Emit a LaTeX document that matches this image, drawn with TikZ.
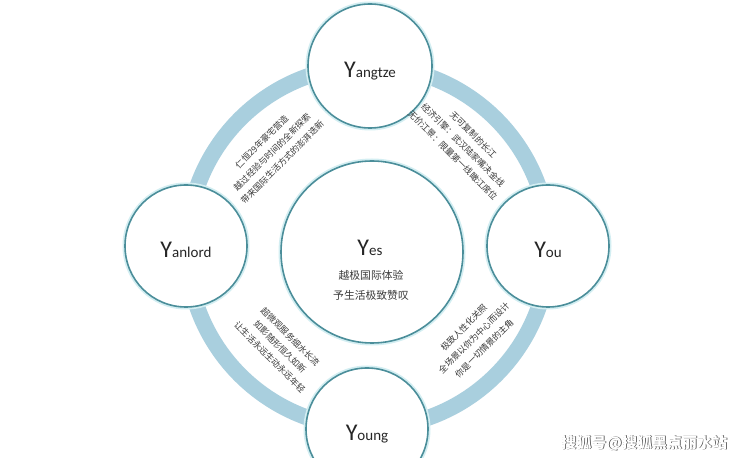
\documentclass[tikz,border=0pt]{standalone}
\usepackage{fontspec}
\setmainfont{Carlito}
\newfontfamily\cjk{Noto Sans CJK SC}
\usepackage{xcolor}
\usepackage{tikz}
\usetikzlibrary{positioning}
\definecolor{ringblue}{HTML}{A9CFDE}
\definecolor{rim}{HTML}{4B8E9A}
\definecolor{glow}{HTML}{D3EEF2}
\definecolor{ink}{HTML}{3A3A3A}
\tikzset{
  band/.style={draw=ringblue,line width=16pt},
  bubble/.style={circle,fill=white,draw=rim,line width=1.6pt,inner sep=0pt,
    preaction={draw=glow,line width=5pt}},
  ylabel/.style={font=\fontsize{15}{15}\selectfont,text=black!85,
    text height=15pt,text depth=4pt,yshift=-6pt},
  blurb/.style={font=\cjk\fontsize{8.7}{14.5}\selectfont,text=ink,align=center,inner sep=0pt},
  tagline/.style={font=\cjk\fontsize{10.8}{20}\selectfont,text=ink,align=center},
  wmark/.style={font=\cjk\bfseries\fontsize{15}{15}\selectfont}
}
\newcommand{\bigY}[1]{{\fontsize{24}{24}\selectfont Y}#1}

\begin{document}
\begin{tikzpicture}[x=1pt,y=1pt]
  \useasboundingbox (0,0) rectangle (740,458);
  \fill[white] (0,0) rectangle (740,458);
  \coordinate (hub) at (368,211);
  \draw[band] (hub) circle (181pt);
  % four outer circles + centre
  \node[bubble,minimum size=124pt] (yangtze) at (370,392) {};
  \node[bubble,minimum size=122pt] (yanlord) at (186,212) {};
  \node[bubble,minimum size=122pt] (you) at (548,212) {};
  \node[bubble,minimum size=122pt] (young) at (367,29) {};
  \node[bubble,minimum size=182pt] (yes) at (372,206) {};
  \node[ylabel] (yangtzelbl) at (yangtze) {\bigY{angtze}};
  \node[ylabel] (yanlordlbl) at (yanlord) {\bigY{anlord}};
  \node[ylabel] (youlbl) at (you) {\bigY{ou}};
  \node[ylabel] (younglbl) at (young) {\bigY{oung}};
  \node[ylabel,yshift=6pt] (yeslbl) at (370,208) {\bigY{es}};
  \node[tagline] (slogan) at (371,173) {越极国际体验\\予生活极致赞叹};
  % texts along the ring
  \node[blurb,rotate=45] (arcnw) at (272,306) {仁恒29年豪宅营造\\越过经验与时间的全新探索\\带来国际生活方式的澎湃迭新};
  \node[blurb,rotate=-45] (arcne) at (463,313) {无可复制的长江\\经济引擎：武汉陆家嘴决金线\\无价江景：限量第一线瞰江席位};
  \node[blurb,rotate=-45] (arcsw) at (280,111) {超微观服务细水长流\\如影随形恒久如新\\让生活永远生动永远年轻};
  \node[blurb,rotate=45] (arcse) at (474,120) {极致人性化关照\\全场景以你为中心而设计\\你是一切情景的主角};
  % watermark
  \node[wmark,text=black!75] (markshadow) at (645,14) {搜狐号@搜狐黑点丽水站};
  \node[wmark,text=white] (mark) at (644.2,14.8) {搜狐号@搜狐黑点丽水站};
\end{tikzpicture}
\end{document}
